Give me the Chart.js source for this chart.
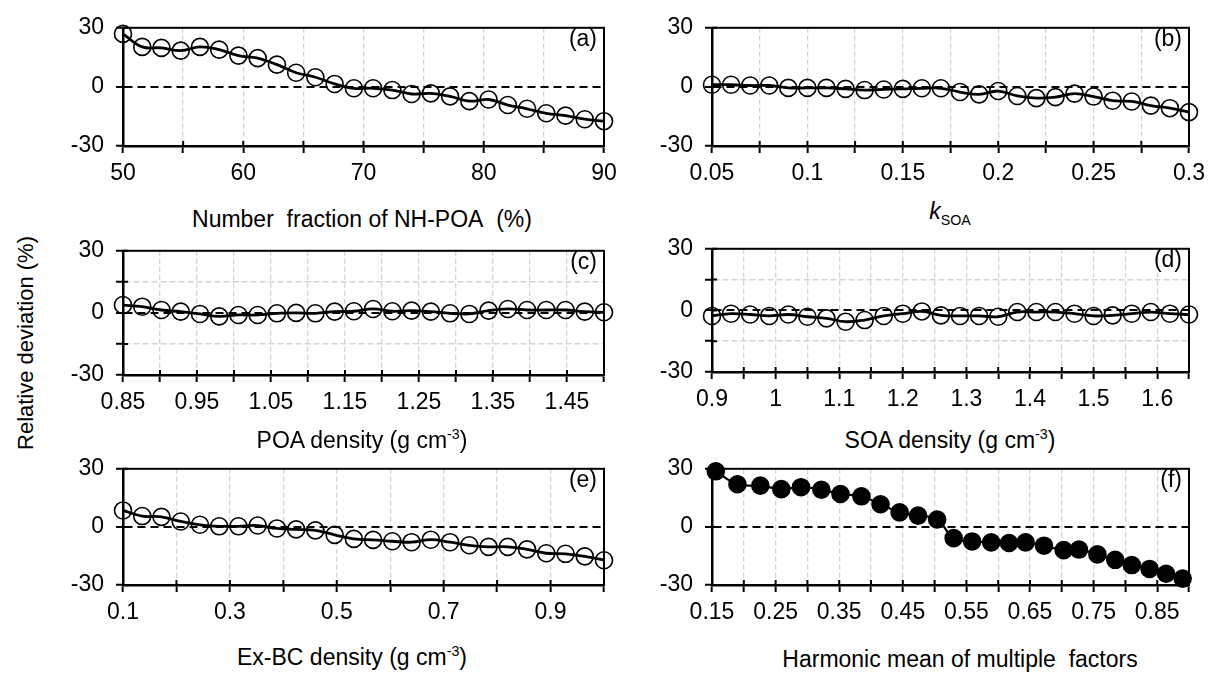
<!DOCTYPE html>
<html>
<head>
<meta charset="utf-8">
<script src="https://cdn.jsdelivr.net/npm/chart.js@4.4.1/dist/chart.umd.min.js"></script>
<style>
  body { margin: 0; background: #fff; width: 1221px; height: 684px; position: relative; overflow: hidden;
         font-family: "Liberation Sans", Arial, sans-serif; color: #000; }
  .box { position: absolute; }
  .lbl { position: absolute; font-size: 23px; white-space: nowrap; transform: translate(-50%, -50%); }
  .lbl sup, .lbl sub { font-size: 0.62em; }
  .tag { position: absolute; font-size: 23px; transform: translate(-100%, -50%); }
  .ylab { position: absolute; font-size: 22px; white-space: nowrap; left: 26px; top: 343px;
          transform: translate(-50%, -50%) rotate(-90deg); }
</style>
</head>
<body>
<div class="ylab">Relative deviation (%)</div>

<script>
// (a) number fraction of NH-POA
const aX = [50, 51.6, 53.2, 54.8, 56.4, 58, 59.6, 61.2, 62.8, 64.4, 66, 67.6, 69.2, 70.8, 72.4, 74, 75.6, 77.2, 78.8, 80.4, 82, 83.6, 85.2, 86.8, 88.4, 90];
const aY = [26.9, 20.3, 19.8, 18.4, 20.3, 18.9, 15.9, 14.6, 11.3, 7.2, 4.9, 1.5, -0.7, -0.7, -1.6, -3.6, -3.3, -4.8, -7.2, -6.4, -9.2, -11.1, -13.4, -14.6, -16.4, -17.4];
const aTicks = [50, 55, 60, 65, 70, 75, 80, 85, 90];
const aLabels = [50, 60, 70, 80, 90];

// (b) k_SOA
const bX = [0.05, 0.06, 0.07, 0.08, 0.09, 0.1, 0.11, 0.12, 0.13, 0.14, 0.15, 0.16, 0.17, 0.18, 0.19, 0.2, 0.21, 0.22, 0.23, 0.24, 0.25, 0.26, 0.27, 0.28, 0.29, 0.3];
const bY = [1.1, 1.1, 0.7, 0.7, -0.5, -0.5, -0.5, -1, -1.6, -1.3, -1, -0.7, -0.7, -2.6, -3.8, -2.1, -4.6, -5.7, -5.2, -3.4, -4.9, -7, -7.4, -9.5, -10.8, -12.8];
const bTicks = [0.05, 0.075, 0.1, 0.125, 0.15, 0.175, 0.2, 0.225, 0.25, 0.275, 0.3];
const bLabels = [0.05, 0.1, 0.15, 0.2, 0.25, 0.3];

// (c) POA density
const cX = [0.85, 0.876, 0.902, 0.928, 0.954, 0.98, 1.006, 1.032, 1.058, 1.084, 1.11, 1.136, 1.162, 1.188, 1.214, 1.24, 1.266, 1.292, 1.318, 1.344, 1.37, 1.396, 1.422, 1.448, 1.474, 1.5];
const cY = [3.8, 3, 1.4, 0.6, -0.5, -1.7, -1, -1, -0.2, 0, -0.2, 0.6, 0.8, 1.9, 0.8, 1.1, 0.6, -0.2, -0.5, 1.1, 1.9, 1.4, 1.4, 1.4, 0.6, 0.3];
const cTicks = [0.85, 0.9, 0.95, 1, 1.05, 1.1, 1.15, 1.2, 1.25, 1.3, 1.35, 1.4, 1.45, 1.5];
const cLabels = [0.85, 0.95, 1.05, 1.15, 1.25, 1.35, 1.45];

// (d) SOA density
const dX = [0.9, 0.93, 0.96, 0.99, 1.02, 1.05, 1.08, 1.11, 1.14, 1.17, 1.2, 1.23, 1.26, 1.29, 1.32, 1.35, 1.38, 1.41, 1.44, 1.47, 1.5, 1.53, 1.56, 1.59, 1.62, 1.65];
const dY = [-2.7, -1.6, -2, -2.7, -2, -3.1, -3.9, -5.5, -4.7, -2.7, -1.6, -0.5, -2.4, -2.7, -2.7, -3.1, -0.8, -0.8, -0.8, -1.6, -2.7, -2.4, -1.6, -0.8, -1.6, -2];
const dTicks = [0.9, 0.95, 1, 1.05, 1.1, 1.15, 1.2, 1.25, 1.3, 1.35, 1.4, 1.45, 1.5, 1.55, 1.6, 1.65];
const dLabels = [0.9, 1, 1.1, 1.2, 1.3, 1.4, 1.5, 1.6];

// (e) Ex-BC density
const eX = [0.1, 0.136, 0.172, 0.208, 0.244, 0.28, 0.316, 0.352, 0.388, 0.424, 0.46, 0.496, 0.532, 0.568, 0.604, 0.64, 0.676, 0.712, 0.748, 0.784, 0.82, 0.856, 0.892, 0.928, 0.964, 1.0];
const eY = [8.5, 5.6, 5.2, 2.8, 1.1, 0.3, 0.3, 0.7, -0.8, -1.3, -1.8, -4.1, -6.2, -6.7, -7.4, -7.9, -6.6, -7.9, -9.5, -10.3, -10.3, -11.6, -13.6, -13.9, -15.2, -17.2];
const eTicks = [0.1, 0.2, 0.3, 0.4, 0.5, 0.6, 0.7, 0.8, 0.9, 1.0];
const eLabels = [0.1, 0.3, 0.5, 0.7, 0.9];

// (f) harmonic mean of multiple factors
const fX = [0.156, 0.19, 0.226, 0.259, 0.29, 0.322, 0.352, 0.385, 0.415, 0.445, 0.474, 0.504, 0.53, 0.559, 0.589, 0.617, 0.643, 0.672, 0.703, 0.727, 0.756, 0.784, 0.81, 0.838, 0.864, 0.89];
const fY = [28.7, 22, 21.3, 19.5, 20.5, 19.2, 17, 15.8, 11.7, 7.5, 5.8, 3.8, -5.8, -7.5, -8, -8.3, -8, -9.7, -12, -11.7, -14.2, -17, -19.7, -21.7, -24.2, -26.7];
const fTicks = [0.15, 0.2, 0.25, 0.3, 0.35, 0.4, 0.45, 0.5, 0.55, 0.6, 0.65, 0.7, 0.75, 0.8, 0.85, 0.9];
const fLabels = [0.15, 0.25, 0.35, 0.45, 0.55, 0.65, 0.75, 0.85];

const yTicks = [-30, -15, 0, 15, 30];
const yLabels = [-30, 0, 30];

Chart.defaults.font.family = '"Liberation Sans", Arial, sans-serif';
Chart.defaults.color = '#000';

const PADL = 110, PADT = 20, PADR = 30, XH = 52;

// box around the plot area, plus the short inner half of each tick mark
const frame = {
  id: 'frame',
  beforeDatasetsDraw(chart) {
    const { ctx, chartArea: a, scales } = chart;
    ctx.save();
    ctx.strokeStyle = '#000';
    ctx.lineWidth = 2;
    ctx.strokeRect(a.left, a.top, a.right - a.left, a.bottom - a.top);
    ctx.beginPath();
    scales.x.ticks.forEach(t => {
      const px = scales.x.getPixelForValue(t.value);
      ctx.moveTo(px, a.bottom);
      ctx.lineTo(px, a.bottom - 5);
    });
    scales.y.ticks.forEach(t => {
      const py = scales.y.getPixelForValue(t.value);
      ctx.moveTo(a.left, py);
      ctx.lineTo(a.left + 5, py);
    });
    ctx.stroke();
    ctx.restore();
  }
};

function panel(opt) {
  const w = opt.right - opt.left, h = opt.bottom - opt.top;
  const box = document.createElement('div');
  box.className = 'box';
  box.style.left = (opt.left - PADL) + 'px';
  box.style.top = (opt.top - PADT) + 'px';
  box.style.width = (w + PADL + PADR) + 'px';
  box.style.height = (h + PADT + XH) + 'px';
  const cv = document.createElement('canvas');
  box.appendChild(cv);
  document.body.appendChild(box);

  const t = document.createElement('div');
  t.className = 'lbl';
  t.innerHTML = opt.title;
  t.style.left = opt.titleX + 'px';
  t.style.top = opt.titleY + 'px';
  document.body.appendChild(t);

  const g = document.createElement('div');
  g.className = 'tag';
  g.textContent = opt.tag;
  g.style.left = (opt.right - 7) + 'px';
  g.style.top = (opt.top + 16) + 'px';
  document.body.appendChild(g);

  const xMin = opt.ticks[0], xMax = opt.ticks[opt.ticks.length - 1];

  new Chart(cv, {
    type: 'line',
    data: {
      datasets: [{
        data: opt.xs.map((x, i) => ({ x: x, y: opt.ys[i] })),
        borderColor: '#000',
        borderWidth: opt.filled ? 2.2 : 2.8,
        tension: 0.4,
        fill: false,
        pointRadius: 8.5,
        pointBorderWidth: 1.6,
        pointBorderColor: '#000',
        pointBackgroundColor: opt.filled ? '#000' : 'rgba(0,0,0,0)',
        clip: false
      }]
    },
    options: {
      responsive: true,
      maintainAspectRatio: false,
      animation: false,
      layout: { padding: { top: PADT, right: PADR, left: 0, bottom: 0 } },
      plugins: { legend: { display: false }, tooltip: { enabled: false } },
      scales: {
        x: {
          type: 'linear',
          min: xMin,
          max: xMax,
          afterBuildTicks: s => { s.ticks = opt.ticks.map(v => ({ value: v })); },
          afterFit: s => { s.height = XH; },
          ticks: {
            autoSkip: false,
            maxRotation: 0,
            padding: 7,
            font: { size: 23 },
            callback: v => opt.labels.includes(v) ? String(v) : ''
          },
          grid: {
            color: c => (c.tick && (c.tick.value === xMin || c.tick.value === xMax)) ? 'rgba(0,0,0,0)' : '#d4d4d4',
            lineWidth: 1.3,
            tickColor: '#000',
            tickWidth: 2,
            tickLength: 7
          },
          border: { color: '#000', width: 2.5, dash: [5, 3] }
        },
        y: {
          min: -30,
          max: 30,
          afterBuildTicks: s => { s.ticks = yTicks.map(v => ({ value: v })); },
          afterFit: s => { s.width = PADL; },
          ticks: {
            padding: 12,
            font: { size: 23 },
            callback: v => yLabels.includes(v) ? String(v) : ''
          },
          grid: {
            color: c => {
              if (!c.tick) return '#d4d4d4';
              if (c.tick.value === 0) return '#000';
              if (Math.abs(c.tick.value) === 30) return 'rgba(0,0,0,0)';
              return '#d4d4d4';
            },
            lineWidth: c => (c.tick && c.tick.value === 0) ? 2 : 1.5,
            tickColor: '#000',
            tickWidth: 2,
            tickLength: 7
          },
          border: {
            color: '#000',
            width: 2.5,
            dash: c => (c.tick && c.tick.value === 0) ? [8, 5] : [6, 3]
          }
        }
      }
    },
    plugins: [frame]
  });
}

panel({ tag: '(a)', xs: aX, ys: aY, ticks: aTicks, labels: aLabels, left: 123, right: 604, top: 22, bottom: 146,
        title: 'Number&nbsp; fraction of NH-POA&nbsp; (%)', titleX: 362, titleY: 219 });
panel({ tag: '(b)', xs: bX, ys: bY, ticks: bTicks, labels: bLabels, left: 712, right: 1189, top: 22, bottom: 146,
        title: '<i>k</i><sub>SOA</sub>', titleX: 950, titleY: 213 });
panel({ tag: '(c)', xs: cX, ys: cY, ticks: cTicks, labels: cLabels, left: 123, right: 604, top: 245, bottom: 375,
        title: 'POA density (g cm<sup>-3</sup>)', titleX: 362, titleY: 440 });
panel({ tag: '(d)', xs: dX, ys: dY, ticks: dTicks, labels: dLabels, left: 712, right: 1189, top: 243, bottom: 372,
        title: 'SOA density (g cm<sup>-3</sup>)', titleX: 950, titleY: 440 });
panel({ tag: '(e)', xs: eX, ys: eY, ticks: eTicks, labels: eLabels, left: 123, right: 604, top: 463, bottom: 585,
        title: 'Ex-BC density (g cm<sup>-3</sup>)', titleX: 352, titleY: 657 });
panel({ tag: '(f)', xs: fX, ys: fY, ticks: fTicks, labels: fLabels, left: 712, right: 1189, top: 463, bottom: 585,
        title: 'Harmonic mean of multiple&nbsp; factors', titleX: 960, titleY: 659, filled: true });
</script>
</body>
</html>
